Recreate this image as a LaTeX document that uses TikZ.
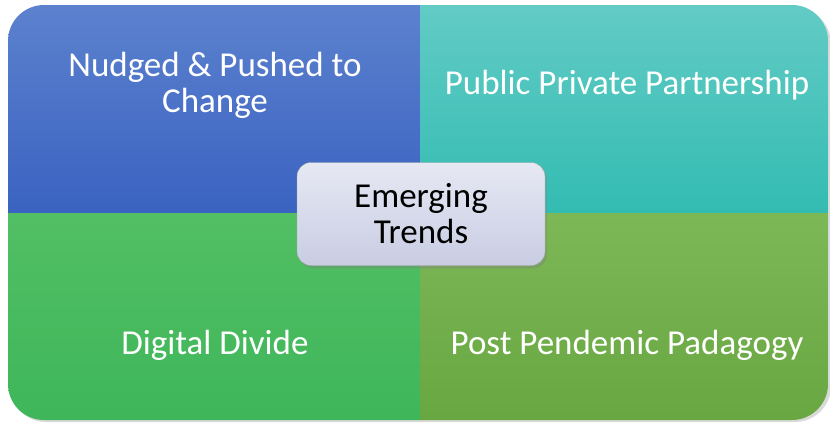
\documentclass[tikz,border=0pt]{standalone}
\usepackage{fontspec}
\setmainfont{Carlito}
\usetikzlibrary{shadows}
\definecolor{blueTop}{HTML}{5C81CE}
\definecolor{blueBot}{HTML}{3A63C1}
\definecolor{tealTop}{HTML}{62CBC5}
\definecolor{tealBot}{HTML}{33BCB2}
\definecolor{greenTop}{HTML}{52BF64}
\definecolor{greenBot}{HTML}{3FB65A}
\definecolor{oliveTop}{HTML}{7DB857}
\definecolor{oliveBot}{HTML}{68A742}
\definecolor{boxTop}{HTML}{E6E8F3}
\definecolor{boxBot}{HTML}{C9CDE3}

\tikzset{
  quadtext/.style={text=white, font=\fontsize{35}{36}\selectfont, align=center},
  centerbox/.style={draw=black!35, rounded corners=14pt, top color=boxTop,
    bottom color=boxBot, minimum width=248pt, minimum height=103pt,
    font=\fontsize{35}{36}\selectfont, align=center,
    drop shadow={shadow xshift=2pt, shadow yshift=-3pt, opacity=0.35}}
}

\begin{document}
\begin{tikzpicture}[x=1pt, y=-1pt]
\useasboundingbox (0,0) rectangle (830,423);

% Outer shadow
\fill[black, opacity=0.15, rounded corners=36pt] (10,8) rectangle (831,422);

% Quadrants
\begin{scope}
    \clip[rounded corners=36pt] (8,5) rectangle (828,420);
    \shade[top color=blueTop, bottom color=blueBot] (8,5) rectangle (420,213);
    \shade[top color=tealTop, bottom color=tealBot] (420,5) rectangle (828,213);
    \shade[top color=greenTop, bottom color=greenBot] (8,213) rectangle (420,420);
    \shade[top color=oliveTop, bottom color=oliveBot] (420,213) rectangle (828,420);
\end{scope}

% Labels
\node[quadtext] (nudged) at (215,85) {Nudged \& Pushed to\\Change};
\node[quadtext] (partnership) at (627,85) {Public Private Partnership};
\node[quadtext] (divide) at (215,345) {Digital Divide};
\node[quadtext] (pedagogy) at (627,345) {Post Pendemic Padagogy};

% Centre
\node[centerbox] (trends) at (421,214) {Emerging\\Trends};

\end{tikzpicture}
\end{document}
